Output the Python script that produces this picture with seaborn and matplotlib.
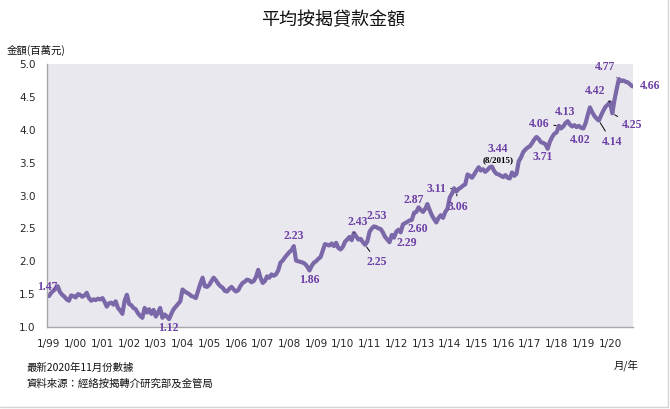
import pandas as pd
import seaborn as sns
import matplotlib.pyplot as plt
import matplotlib.dates as mdates
from matplotlib.lines import Line2D

# monthly average mortgage amount (HK$ million), Jan 1999 - Nov 2020
y1999 = [1.47, 1.52, 1.55, 1.58, 1.62, 1.53, 1.49, 1.46, 1.42, 1.40, 1.48, 1.47]
y2000 = [1.45, 1.50, 1.49, 1.46, 1.48, 1.52, 1.44, 1.40, 1.42, 1.41, 1.43, 1.42]
y2001 = [1.44, 1.38, 1.31, 1.36, 1.37, 1.34, 1.39, 1.29, 1.25, 1.20, 1.40, 1.49]
y2002 = [1.35, 1.33, 1.29, 1.27, 1.21, 1.17, 1.14, 1.29, 1.22, 1.27, 1.20, 1.26]
y2003 = [1.16, 1.22, 1.29, 1.14, 1.19, 1.16, 1.12, 1.20, 1.27, 1.31, 1.35, 1.39]
y2004 = [1.57, 1.54, 1.52, 1.50, 1.47, 1.46, 1.44, 1.55, 1.66, 1.75, 1.62, 1.61]
y2005 = [1.64, 1.70, 1.75, 1.71, 1.66, 1.62, 1.60, 1.55, 1.54, 1.58, 1.61, 1.57]
y2006 = [1.54, 1.56, 1.62, 1.67, 1.69, 1.72, 1.71, 1.68, 1.70, 1.76, 1.87, 1.75]
y2007 = [1.67, 1.70, 1.77, 1.75, 1.80, 1.78, 1.80, 1.86, 1.98, 2.01, 2.06, 2.10]
y2008 = [2.14, 2.17, 2.23, 2.01, 2.00, 1.99, 1.98, 1.96, 1.92, 1.86, 1.93, 1.98]
y2009 = [2.00, 2.04, 2.06, 2.16, 2.26, 2.25, 2.24, 2.27, 2.23, 2.28, 2.20, 2.18]
y2010 = [2.22, 2.30, 2.33, 2.37, 2.32, 2.43, 2.38, 2.33, 2.34, 2.29, 2.25, 2.30]
y2011 = [2.45, 2.50, 2.53, 2.52, 2.50, 2.49, 2.44, 2.37, 2.33, 2.29, 2.40, 2.36]
y2012 = [2.45, 2.48, 2.44, 2.56, 2.58, 2.60, 2.62, 2.63, 2.74, 2.75, 2.82, 2.78]
y2013 = [2.75, 2.80, 2.87, 2.78, 2.70, 2.64, 2.59, 2.66, 2.70, 2.66, 2.75, 2.80]
y2014 = [2.97, 3.03, 3.11, 3.06, 3.10, 3.12, 3.15, 3.17, 3.32, 3.30, 3.27, 3.32]
y2015 = [3.38, 3.43, 3.38, 3.40, 3.36, 3.39, 3.43, 3.44, 3.37, 3.33, 3.32, 3.30]
y2016 = [3.28, 3.31, 3.27, 3.26, 3.35, 3.30, 3.33, 3.52, 3.58, 3.66, 3.70, 3.73]
y2017 = [3.75, 3.80, 3.85, 3.89, 3.86, 3.81, 3.80, 3.78, 3.71, 3.82, 3.89, 3.94]
y2018 = [3.96, 4.06, 4.02, 4.05, 4.10, 4.13, 4.08, 4.05, 4.07, 4.04, 4.06, 4.03]
y2019 = [4.02, 4.10, 4.22, 4.34, 4.27, 4.21, 4.17, 4.14, 4.22, 4.29, 4.35, 4.38]
y2020 = [4.42, 4.25, 4.45, 4.62, 4.77, 4.74, 4.75, 4.73, 4.72, 4.69, 4.66]

amounts = (y1999 + y2000 + y2001 + y2002 + y2003 + y2004 + y2005 + y2006 + y2007
           + y2008 + y2009 + y2010 + y2011 + y2012 + y2013 + y2014 + y2015
           + y2016 + y2017 + y2018 + y2019 + y2020)
months = pd.date_range("1999-01-01", periods=len(amounts), freq="MS")

tick_labels = ["1/%02d" % (y % 100) for y in range(1999, 2021)]

# labelled points
annot_months = ["1999-01", "2003-07", "2008-03", "2008-10", "2010-06", "2011-03",
                "2010-11", "2011-10", "2012-08", "2013-03", "2014-03", "2014-04",
                "2015-08", "2017-09", "2018-02", "2018-06", "2019-01", "2019-08",
                "2020-01", "2020-02", "2020-05", "2020-11"]
annot_texts = ["1.47", "1.12", "2.23", "1.86", "2.43", "2.53", "2.25", "2.29",
               "2.60", "2.87", "3.11", "3.06", "3.44", "3.71", "4.06", "4.13",
               "4.02", "4.14", "4.42", "4.25", "4.77", "4.66"]

df = pd.DataFrame({"month": months, "amount": amounts})

sns.set_theme(style="white")
plt.rcParams["font.family"] = ["Noto Sans CJK TC", "DejaVu Sans"]

LINE = "#7b68a8"
LABEL = "#6b3fa5"
BG = "#eae8ef"

fig = plt.figure(figsize=(6.7, 4.09), dpi=100)
ax = fig.add_axes([0.070, 0.2005, 0.875, 0.643])
ax.set_facecolor(BG)

sns.lineplot(data=df, x="month", y="amount", color=LINE, linewidth=3.0, ax=ax)

ax.set_ylim(1.0, 5.0)
ax.set_xlim(pd.Timestamp("1998-12-04"), pd.Timestamp("2020-11-12"))
ax.set_yticks([1.0, 1.5, 2.0, 2.5, 3.0, 3.5, 4.0, 4.5, 5.0])
ax.set_yticklabels(["%.1f" % v for v in ax.get_yticks()], fontsize=7.5,
                   family="DejaVu Sans")
year_ticks = pd.date_range("1999-01-01", "2020-01-01", freq="YS")
ax.set_xticks(year_ticks)
ax.set_xticklabels(tick_labels, fontsize=7.5, family="DejaVu Sans")
ax.xaxis.set_minor_locator(mdates.MonthLocator())
ax.tick_params(axis="x", which="both", direction="in", length=3, width=0.6,
               color="#8a8a8a", pad=9)
ax.tick_params(axis="y", which="both", direction="in", length=3, width=0.6,
               color="#8a8a8a", pad=8)
ax.set_xlabel("")
ax.set_ylabel("")
for side in ["top", "right"]:
    ax.spines[side].set_visible(False)
for side in ["left", "bottom"]:
    ax.spines[side].set_color("#a8a8a8")
    ax.spines[side].set_linewidth(1.0)

# label offsets in pixels (dx, dy) and whether a leader line is drawn
offsets = {
    "1.47": (-2, 9, False), "1.12": (-1, -9, False), "2.23": (0, 10, False),
    "1.86": (0, -10, False), "2.43": (4, 11, True), "2.53": (3, 10, False),
    "2.25": (12, -17, True), "2.29": (17, -1, False), "2.60": (6, -9, False),
    "2.87": (-14, 4, False), "3.11": (-18, -1, True), "3.06": (2, -15, True),
    "3.44": (6, 18, False), "3.71": (-5, -8, False), "4.06": (-20, 2, True),
    "4.13": (-3, 9, False), "4.02": (-3, -12, False), "4.14": (13, -21, True),
    "4.42": (-15, 11, True), "4.25": (20, -12, True), "4.77": (-14, 12, True),
    "4.66": (18, 0, False),
}
for m, t in zip(annot_months, annot_texts):
    d = pd.Timestamp(m + "-01")
    v = df.loc[df["month"] == d, "amount"].iloc[0]
    dx, dy, lead = offsets[t]
    arrow = dict(arrowstyle="-", color="black", lw=0.7, shrinkA=1, shrinkB=2) if lead else None
    ax.annotate(t, xy=(d, v), xytext=(dx, dy), textcoords="offset pixels",
                ha="center", va="center", fontsize=8.5, fontweight="bold",
                family="Liberation Serif", color=LABEL, arrowprops=arrow,
                annotation_clip=False)
    if t == "3.44":
        ax.annotate("(8/2015)", xy=(d, v), xytext=(dx, dy - 12),
                    textcoords="offset pixels", ha="center", va="center",
                    fontsize=6.5, fontweight="bold", family="Liberation Serif",
                    color="black")

fig.text(0.497, 0.951, "平均按揭貸款金額", ha="center", va="center",
         fontsize=13, fontweight="medium", color="#111111")
fig.text(0.010, 0.877, "金額(百萬元)", ha="left", va="center", fontsize=7.5,
         color="#111111")
fig.text(0.935, 0.106, "月/年", ha="center", va="center", fontsize=7.5,
         color="#111111")
fig.text(0.040, 0.100, "最新2020年11月份數據", ha="left", va="center",
         fontsize=7.5, color="#111111")
fig.text(0.040, 0.061, "資料來源：經絡按揭轉介研究部及金管局", ha="left",
         va="center", fontsize=7.5, color="#111111")

fig.add_artist(Line2D([0, 0.997], [0.006, 0.006], color="#d4d4d4", lw=1))
fig.add_artist(Line2D([0.997, 0.997], [0.006, 1], color="#d4d4d4", lw=1))

fig.savefig("out.png", dpi=100)
